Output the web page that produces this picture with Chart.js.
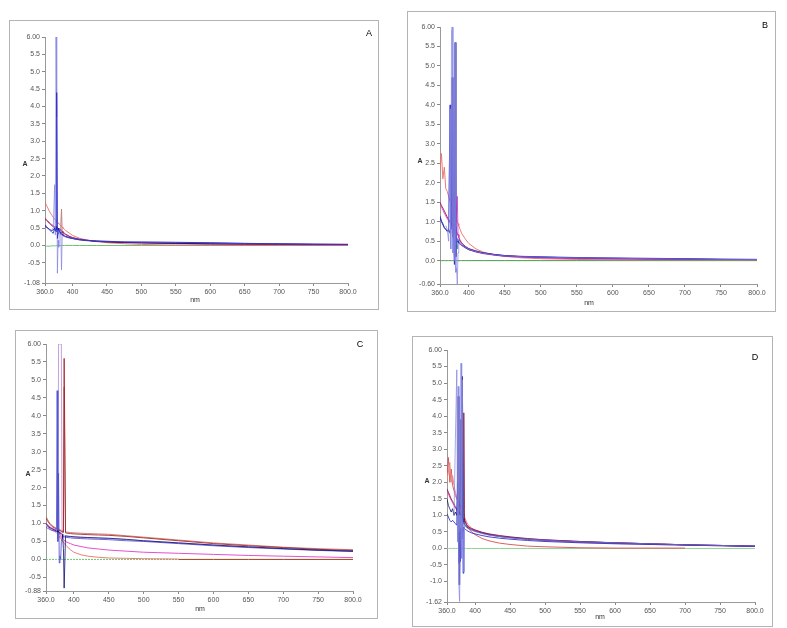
<!DOCTYPE html>
<html>
<head>
<meta charset="utf-8">
<script src="https://cdn.jsdelivr.net/npm/chart.js@4.4.1/dist/chart.umd.min.js"></script>
<style>
  body { margin: 0; background: #fff; width: 787px; height: 628px; position: relative; overflow: hidden; font-family: "Liberation Sans", Arial, sans-serif; }
  canvas { position: absolute; }
  .box { position: absolute; box-sizing: border-box; border: 1px solid #b4b4b4; pointer-events: none; }
  .lbl { position: absolute; transform: translate(-50%, -50%); font-size: 7px; color: #333; white-space: nowrap; }
  .letter { position: absolute; transform: translate(-50%, -50%); font-size: 9px; color: #000; }
</style>
</head>
<body>
<canvas id="chartA" width="369" height="289" style="left:9px;top:20px"></canvas>
<canvas id="chartB" width="368" height="300" style="left:407px;top:11px"></canvas>
<canvas id="chartC" width="362" height="288" style="left:15px;top:330px"></canvas>
<canvas id="chartD" width="360" height="290" style="left:412px;top:336px"></canvas>
<div class="box" style="left:9px;top:20px;width:370px;height:290px"></div>
<div class="box" style="left:407px;top:11px;width:369px;height:301px"></div>
<div class="box" style="left:15px;top:330px;width:363px;height:289px"></div>
<div class="box" style="left:412px;top:336px;width:361px;height:291px"></div>

<div class="lbl" style="left:25px;top:163px;font-weight:bold">A</div>
<div class="letter" style="left:369px;top:33px">A</div>
<div class="lbl" style="left:195px;top:299px">nm</div>

<div class="lbl" style="left:420px;top:160px;font-weight:bold">A</div>
<div class="letter" style="left:765px;top:25px">B</div>
<div class="lbl" style="left:589px;top:302px">nm</div>

<div class="lbl" style="left:28px;top:473px;font-weight:bold">A</div>
<div class="letter" style="left:360px;top:344px">C</div>
<div class="lbl" style="left:200px;top:608px">nm</div>

<div class="lbl" style="left:427px;top:480px;font-weight:bold">A</div>
<div class="letter" style="left:755px;top:357px">D</div>
<div class="lbl" style="left:600px;top:616px">nm</div>

<script>
// wavelengths (nm) shared by all four panels
const WL = [360, 362, 364, 366, 368, 370, 372, 374, 375, 376, 377, 378, 379, 380, 381, 382, 383, 384, 385, 386, 388, 390, 395, 400, 410, 420, 435, 450, 475, 500, 550, 600, 650, 700, 750, 800];

const xTickValues = [360, 400, 450, 500, 550, 600, 650, 700, 750, 800];
const xTickLabels = ['360.0', '400', '450', '500', '550', '600', '650', '700', '750', '800.0'];
const yTicksA = [-1.08, -0.5, 0, 0.5, 1, 1.5, 2, 2.5, 3, 3.5, 4, 4.5, 5, 5.5, 6];
const yTicksB = [-0.6, 0, 0.5, 1, 1.5, 2, 2.5, 3, 3.5, 4, 4.5, 5, 5.5, 6];
const yTicksC = [-0.88, -0.5, 0, 0.5, 1, 1.5, 2, 2.5, 3, 3.5, 4, 4.5, 5, 5.5, 6];
const yTicksD = [-1.62, -1, -0.5, 0, 0.5, 1, 1.5, 2, 2.5, 3, 3.5, 4, 4.5, 5, 5.5, 6];

// panel A
const aRed    = [1.25,1.16,1.08,1.0,0.93,0.87,0.81,0.76,0.73,0.71,0.69,0.67,0.65,0.63,0.61,0.59,0.57,0.55,0.53,0.51,0.47,0.43,0.36,0.29,0.21,0.16,0.11,0.08,0.05,0.03,0.01,0.01,0,0,0,0];
const aMag    = [0.8,0.75,0.71,0.67,0.63,0.6,0.57,0.54,0.53,0.52,0.51,0.5,0.49,0.48,0.47,0.46,0.45,0.43,0.41,0.39,0.36,0.33,0.27,0.23,0.18,0.15,0.12,0.1,0.08,0.07,0.05,0.04,0.03,0.03,0.02,0.02];
const aMaroon = [0.76,0.72,0.68,0.64,0.6,0.57,0.54,0.52,0.51,0.5,0.49,0.48,0.47,0.46,0.45,0.44,0.43,0.41,0.39,0.37,0.34,0.31,0.26,0.22,0.18,0.15,0.12,0.1,0.09,0.08,0.06,0.05,0.04,0.04,0.03,0.03];
const aBlue   = [0.6,0.55,0.5,0.46,0.42,0.38,0.35,0.5,0.45,0.4,4.4,0.2,0.35,0.45,0.4,0.38,0.35,0.33,0.31,0.3,0.28,0.26,0.23,0.2,0.17,0.15,0.13,0.12,0.1,0.1,0.09,0.08,0.06,0.05,0.04,0.03];
const aLav    = [null,null,null,null,null,0.45,0.5,1.75,0.3,6.0,3.7,-0.8,0.15,-0.05,0.5,0.45,0.3,-0.7,0.3,0.28,0.26,0.25,0.22,0.2,0.17,0.15,0.13,0.12,0.11,0.1,0.09,0.08,0.06,0.05,0.04,0.03];
const aNavy   = [0.55,0.52,0.5,0.47,0.45,0.43,0.45,0.5,0.42,0.55,0.45,0.52,0.44,0.5,0.42,0.38,0.35,0.33,0.31,0.29,0.27,0.25,0.22,0.2,0.16,0.14,0.12,0.11,0.09,0.08,0.06,0.05,0.05,0.04,0.03,0.03];
const aBrown  = [null,null,null,null,null,null,null,null,null,null,null,null,null,0.45,0.5,0.45,0.6,1.05,0.35,0.3,0.27,null,null,null,null,null,null,null,null,null,null,null,null,null,null,null];
const aGreen  = [-0.02,-0.02,-0.02,-0.02,-0.02,-0.01,-0.01,-0.01,-0.01,-0.01,0,0,0,0,0,0,0,0,0,0,0,0,0,0,0,0,0,0,0,0,0,0,0,0,0,0];

// panel B
const bRed    = [2.3,2.75,2.1,2.4,1.85,1.78,1.65,1.52,1.47,1.42,1.38,1.33,1.28,1.23,1.18,1.12,1.06,1.0,0.95,0.9,0.8,0.7,0.56,0.44,0.3,0.22,0.15,0.11,0.07,0.05,0.03,0.02,0.02,0.02,0.02,0.02];
const bMaroon = [1.5,1.42,1.35,1.28,1.2,1.12,1.05,1.0,0.97,0.95,0.93,0.9,0.88,0.86,0.84,0.8,0.75,0.7,0.65,0.6,0.52,0.46,0.37,0.31,0.25,0.2,0.16,0.13,0.1,0.08,0.06,0.05,0.04,0.04,0.03,0.03];
const bMag    = [1.45,1.38,1.3,1.22,1.15,1.08,1.02,0.97,0.95,0.92,0.9,0.88,0.86,0.9,0.95,1.1,1.3,1.65,0.68,0.6,0.5,0.43,0.34,0.28,0.22,0.18,0.14,0.11,0.09,0.07,0.05,0.04,0.04,0.03,0.03,0.02];
const bBlue   = [1.15,1.02,0.95,0.85,0.8,0.78,0.75,4.0,0.8,0.9,0.85,3.8,0.5,-0.1,0.9,0.3,0.6,0.55,0.5,0.47,0.43,0.4,0.35,0.3,0.24,0.2,0.16,0.13,0.11,0.1,0.08,0.07,0.06,0.05,0.04,0.03];
const bLav    = [null,null,null,null,0.9,0.8,0.5,3.9,0.3,5.9,6.0,0.2,4.7,0.0,5.6,-0.3,-0.2,-0.6,0.2,0.45,0.42,0.4,0.34,0.29,0.23,0.19,0.15,0.12,0.1,0.09,0.07,0.06,0.05,0.04,0.03,0.03];
const bNavy   = [1.1,1.0,0.92,0.85,0.8,0.75,0.8,0.7,1.0,0.9,4.7,0.6,0.9,0.7,5.6,0.1,0.5,0.5,0.48,0.45,0.42,0.39,0.33,0.28,0.23,0.19,0.15,0.12,0.1,0.09,0.07,0.06,0.05,0.04,0.03,0.03];
const bTeal   = [null,null,null,null,null,null,null,null,null,null,null,null,null,null,null,0.7,0.4,0.3,0.5,0.55,0.5,0.45,null,null,null,null,null,null,null,null,null,null,null,null,null,null];
const bGreen  = [0,0,0,0,0,0,0,0,0,0,0,0,0,0,0,0,0,0,0,0,0,0,0,0,0,0,0,0,0,0,0,0,0,0,0,0];

// panel C
const cSalmon  = [1.2,1.12,1.05,1.0,0.96,0.93,0.9,0.88,0.87,0.86,0.85,0.84,0.83,0.82,0.81,0.8,0.8,0.79,0.78,4.8,0.77,0.76,0.75,0.74,0.73,0.72,0.71,0.7,0.66,0.62,0.54,0.46,0.4,0.34,0.3,0.27];
const cDarkRed = [1.15,1.08,1.02,0.97,0.93,0.9,0.88,0.86,0.85,0.84,0.83,0.82,0.81,0.8,0.79,0.78,0.77,0.76,0.75,5.6,0.74,0.73,0.72,0.71,0.7,0.69,0.68,0.67,0.64,0.6,0.52,0.44,0.38,0.33,0.28,0.25];
const cLav     = [0.95,0.92,0.89,0.86,0.84,0.82,0.8,0.79,0.78,0.77,0.76,6.0,6.0,6.0,6.0,6.0,0.7,0.68,0.67,0.66,0.65,0.64,0.63,0.62,0.61,0.6,0.59,0.58,0.55,0.52,0.46,0.4,0.34,0.3,0.26,0.23];
const cBlue    = [0.9,0.87,0.85,0.83,0.81,0.8,0.8,0.78,0.9,4.7,0.5,2.4,-0.1,0.1,0.0,0.5,0.6,0.65,0.64,0.63,0.62,0.61,0.6,0.59,0.58,0.57,0.56,0.55,0.52,0.5,0.44,0.38,0.33,0.29,0.25,0.22];
const cNavy    = [1.0,0.95,0.9,0.88,0.86,0.84,0.82,0.8,0.78,0.8,0.76,0.78,0.75,0.74,0.73,0.72,0.7,0.6,0.3,-0.8,0.66,0.65,0.64,0.63,0.62,0.61,0.6,0.59,0.56,0.52,0.46,0.4,0.35,0.3,0.26,0.23];
const cMag     = [1.0,0.97,0.93,0.9,0.88,0.86,0.84,0.83,0.82,0.8,0.78,0.76,0.73,0.7,0.67,0.63,0.6,0.57,0.55,0.53,0.5,0.48,0.44,0.4,0.36,0.32,0.29,0.26,0.23,0.2,0.17,0.14,0.11,0.09,0.07,0.05];
const cLowRed  = [0.95,0.92,0.88,0.85,0.82,0.8,0.78,0.76,0.74,0.72,0.7,0.67,0.64,0.61,0.58,0.55,0.52,0.5,0.48,0.45,0.4,0.36,0.27,0.2,0.13,0.09,0.06,0.04,0.03,0.02,0.01,null,null,null,null,null];
const cBrown   = [null,null,null,null,null,null,null,null,null,null,null,null,null,null,null,null,null,null,null,null,null,null,null,null,null,null,null,null,null,null,0,0,0,0,0,0];
const cGreen   = [0,0,0,0,0,0,0,0,0,0,0,0,0,0,0,0,0,0,0,0,0,0,0,0,0,0,0,0,0,0,0,null,null,null,null,null];

// panel D
const dRed    = [2.2,2.75,2.0,2.4,1.9,1.75,1.6,1.5,1.45,1.4,1.35,1.3,1.25,1.2,1.15,1.1,1.05,1.0,0.92,0.85,0.72,0.62,0.5,0.42,0.3,0.23,0.16,0.12,0.07,0.05,0.02,0.01,0.01,0.01,null,null];
const dPink   = [2.1,2.3,2.6,2.0,2.2,1.9,1.7,1.55,1.5,1.45,1.4,1.35,1.3,1.28,1.25,1.2,1.15,1.1,0.95,0.9,0.8,0.72,0.62,0.55,0.47,0.42,0.36,0.32,0.27,0.23,0.18,0.15,0.12,0.1,0.08,0.06];
const dMaroon = [1.8,1.7,1.6,1.5,1.42,1.35,1.25,1.2,1.15,1.12,1.1,1.08,1.05,1.03,1.0,1.0,1.2,4.1,0.85,0.8,0.72,0.66,0.6,0.56,0.49,0.44,0.39,0.35,0.3,0.26,0.21,0.17,0.14,0.11,0.09,0.07];
const dMag    = [1.75,1.65,1.55,1.46,1.38,1.3,1.22,1.16,1.12,1.1,1.08,1.05,1.03,1.0,0.98,0.96,0.93,0.9,0.84,0.8,0.72,0.66,0.59,0.55,0.48,0.43,0.38,0.34,0.29,0.26,0.21,0.17,0.14,0.11,0.09,0.07];
const dNavy   = [1.5,1.3,1.2,1.1,1.2,1.0,1.1,1.0,1.6,4.6,1.0,-1.1,1.2,3.9,0.9,5.2,0.9,0.8,0.75,0.72,0.66,0.62,0.56,0.52,0.46,0.41,0.36,0.33,0.28,0.25,0.2,0.17,0.14,0.11,0.09,0.07];
const dBlue   = [1.05,0.95,0.85,0.8,0.85,0.8,0.75,0.7,2.0,0.5,-0.45,0.2,-0.4,0.6,0.3,3.5,-0.75,0.65,0.6,0.58,0.55,0.52,0.47,0.44,0.39,0.35,0.31,0.28,0.24,0.21,0.17,0.14,0.12,0.1,0.08,0.06];
const dLav    = [null,null,null,null,null,1.0,3.3,5.4,0.2,4.9,-1.1,-1.6,0.3,5.6,-0.3,5.1,0.5,-0.7,0.7,0.68,0.64,0.6,0.55,0.51,0.45,0.4,0.36,0.32,0.28,0.25,0.2,0.17,0.14,0.11,0.09,0.07];
const dTeal   = [null,null,null,null,null,null,null,null,null,null,null,null,null,0.8,1.0,5.1,0.9,0.75,0.7,0.68,0.65,0.6,null,null,null,null,null,null,null,null,null,null,null,null,null,null];
const dGreen  = [0,0,0,0,0,0,0,0,0,0,0,0,0,0,0,0,0,0,0,0,0,0,0,0,0,0,0,0,0,0,0,0,0,0,0,0];

function pts(ys) {
    return WL.map((x, i) => ({ x: x, y: ys[i] }));
}

function line(ys, color, dash) {
    return {
        data: pts(ys),
        borderColor: color,
        borderWidth: 1,
        borderDash: dash || [],
        pointRadius: 0,
        tension: 0,
        spanGaps: false,
        fill: false
    };
}

function yLabel(v, ticks) {
    if (v === ticks[0] || v === ticks[ticks.length - 1]) return v.toFixed(2);
    return v.toFixed(1);
}

// plot box inside each canvas: left, top, right, bottom (px)
function makePanel(id, datasets, yTicks, area) {
    const c = document.getElementById(id);
    const w = c.width, h = c.height;
    return new Chart(c.getContext('2d'), {
        type: 'line',
        data: { datasets: datasets },
        options: {
            responsive: false,
            animation: false,
            layout: { padding: { left: 0, top: area.top, right: w - area.right, bottom: 0 } },
            plugins: { legend: { display: false }, tooltip: { enabled: false } },
            scales: {
                x: {
                    type: 'linear',
                    min: 360,
                    max: 800,
                    afterBuildTicks: (s) => { s.ticks = xTickValues.map(v => ({ value: v })); },
                    afterFit: (s) => { s.height = h - area.bottom; },
                    ticks: {
                        autoSkip: false,
                        maxRotation: 0,
                        padding: 2,
                        color: '#555',
                        font: { family: 'Liberation Sans', size: 7 },
                        callback: (v) => xTickLabels[xTickValues.indexOf(v)]
                    },
                    grid: { drawOnChartArea: false, drawTicks: true, tickLength: 3, color: '#888' },
                    border: { color: '#999' }
                },
                y: {
                    min: yTicks[0],
                    max: 6,
                    afterBuildTicks: (s) => { s.ticks = yTicks.map(v => ({ value: v })); },
                    afterFit: (s) => { s.width = area.left; },
                    ticks: {
                        autoSkip: false,
                        padding: 2,
                        color: '#555',
                        font: { family: 'Liberation Sans', size: 7 },
                        callback: (v) => yLabel(v, yTicks)
                    },
                    grid: { drawOnChartArea: false, drawTicks: true, tickLength: 3, color: '#888' },
                    border: { color: '#999' }
                }
            }
        }
    });
}

const RED = 'rgba(232,112,106,0.9)', MAROON = 'rgba(139,26,58,0.85)', MAG = 'rgba(224,48,200,0.85)', BLUE = 'rgba(40,40,200,0.85)';
const LAV = 'rgba(130,130,225,0.7)', NAVY = 'rgba(16,16,112,0.8)', TEAL = '#3aa0a0', GREEN = '#6cc06c', BROWN = '#a04018';

makePanel('chartA', [
    line(aBlue, BLUE), line(aLav, LAV), line(aNavy, NAVY), line(aMaroon, MAROON),
    line(aMag, 'rgba(184,48,144,0.85)'), line(aRed, RED), line(aBrown, '#c08080'), line(aGreen, GREEN)
], yTicksA, { left: 36, top: 17, right: 339, bottom: 263 });

makePanel('chartB', [
    line(bLav, LAV), line(bBlue, BLUE), line(bNavy, NAVY), line(bMag, MAG),
    line(bMaroon, MAROON), line(bRed, RED), line(bTeal, TEAL), line(bGreen, '#4a9a4a')
], yTicksB, { left: 33, top: 16, right: 350, bottom: 273 });

makePanel('chartC', [
    line(cNavy, NAVY), line(cBlue, 'rgba(80,80,208,0.85)'), line(cDarkRed, 'rgba(160,32,40,0.85)'), line(cSalmon, 'rgba(200,112,96,0.85)'),
    line(cLav, 'rgba(184,144,216,0.85)'), line(cMag, MAG), line(cBrown, BROWN), line(cLowRed, RED), line(cGreen, GREEN, [2, 1])
], yTicksC, { left: 31, top: 14, right: 338, bottom: 261 });

makePanel('chartD', [
    line(dLav, LAV), line(dNavy, NAVY), line(dBlue, BLUE), line(dMaroon, MAROON),
    line(dMag, MAG), line(dTeal, TEAL), line(dPink, 'rgba(232,128,128,0.9)'), line(dRed, 'rgba(216,80,80,0.9)'), line(dGreen, '#8ed08e')
], yTicksD, { left: 35, top: 14, right: 343, bottom: 266 });
</script>
</body>
</html>
